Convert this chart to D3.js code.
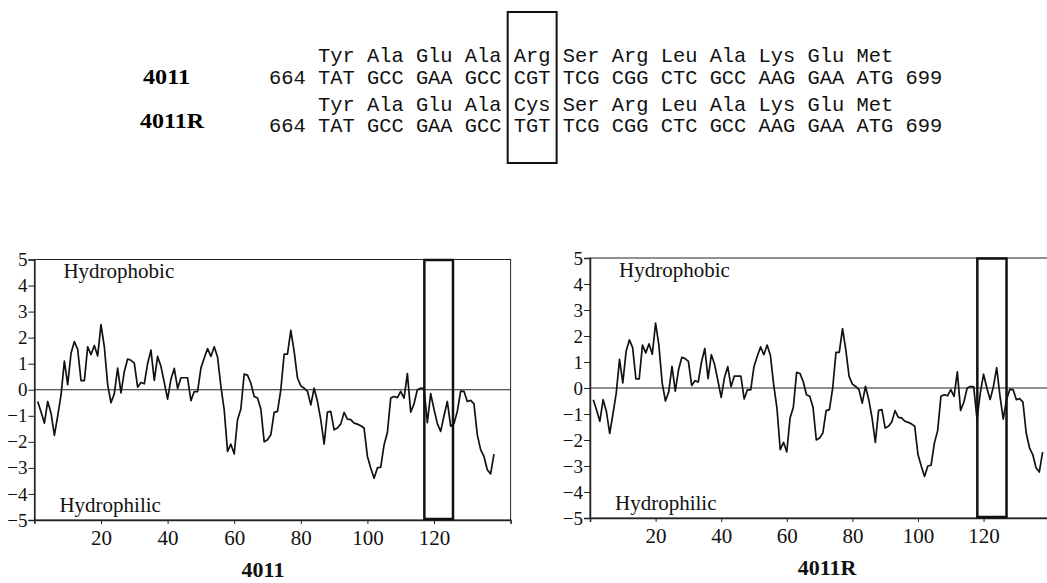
<!DOCTYPE html>
<html>
<head>
<meta charset="utf-8">
<script src="https://cdn.jsdelivr.net/npm/d3@7"></script>
<style>
  body { margin: 0; background: #fff; }
  svg { display: block; }
</style>
</head>
<body>
<div id="chart"></div>
<script>
// ---- data ----
var aaWT = ["Tyr", "Ala", "Glu", "Ala", "Arg", "Ser", "Arg", "Leu", "Ala", "Lys", "Glu", "Met"];
var aaMut = ["Tyr", "Ala", "Glu", "Ala", "Cys", "Ser", "Arg", "Leu", "Ala", "Lys", "Glu", "Met"];
var codonWT = ["TAT", "GCC", "GAA", "GCC", "CGT", "TCG", "CGG", "CTC", "GCC", "AAG", "GAA", "ATG"];
var codonMut = ["TAT", "GCC", "GAA", "GCC", "TGT", "TCG", "CGG", "CTC", "GCC", "AAG", "GAA", "ATG"];
var seqStart = "664";
var seqEnd = "699";
var boxedCodon = 4;

// hydropathy, residue 1..138
var hydroWT = [
  -0.45, -0.85, -1.28, -0.45, -0.9, -1.75, -1.0, -0.2, 1.1, 0.2,
  1.4, 1.85, 1.55, 0.35, 0.35, 1.65, 1.35, 1.7, 1.3, 2.5,
  1.65, 0.2, -0.5, -0.15, 0.83, -0.12, 0.7, 1.18, 1.13, 1.02,
  0.1, 0.28, 0.23, 1.0, 1.52, 0.36, 1.28, 0.9, 0.28, -0.36,
  0.4, 0.82, 0.05, 0.46, 0.46, 0.46, -0.42, -0.07, -0.07, 0.83,
  1.22, 1.58, 1.28, 1.65, 1.26, 0.13, -0.77, -2.37, -2.09, -2.46,
  -1.15, -0.74, 0.6, 0.56, 0.25, -0.26, -0.32, -0.74, -2.0, -1.92,
  -1.73, -0.87, -0.83, 0.0, 1.37, 1.37, 2.28, 1.47, 0.45, 0.15,
  0.06, -0.06, -0.58, 0.06, -0.45, -1.15, -2.09, -0.86, -0.83, -1.54,
  -1.47, -1.31, -0.87, -1.13, -1.15, -1.28, -1.32, -1.38, -1.47, -2.56,
  -3.0, -3.4, -3.0, -2.97, -2.12, -1.64, -0.32, -0.26, -0.3, -0.06,
  -0.32, 0.62, -0.86, -0.54, 0.0, 0.06, 0.04, -1.26, -0.15, -0.75,
  -1.3, -1.6, -1.0, -0.45, -1.4, -1.3, -0.83, -0.05, -0.06, -0.45,
  -0.41, -0.54, -1.73, -2.3, -2.56, -3.07, -3.23, -2.47
];
var hydroMut = [
  -0.45, -0.85, -1.28, -0.45, -0.9, -1.75, -1.0, -0.2, 1.1, 0.2,
  1.4, 1.85, 1.55, 0.35, 0.35, 1.65, 1.35, 1.7, 1.3, 2.5,
  1.65, 0.2, -0.5, -0.15, 0.83, -0.12, 0.7, 1.18, 1.13, 1.02,
  0.1, 0.28, 0.23, 1.0, 1.52, 0.36, 1.28, 0.9, 0.28, -0.36,
  0.4, 0.82, 0.05, 0.46, 0.46, 0.46, -0.42, -0.07, -0.07, 0.83,
  1.22, 1.58, 1.28, 1.65, 1.26, 0.13, -0.77, -2.37, -2.09, -2.46,
  -1.15, -0.74, 0.6, 0.56, 0.25, -0.26, -0.32, -0.74, -2.0, -1.92,
  -1.73, -0.87, -0.83, 0.0, 1.37, 1.37, 2.28, 1.47, 0.45, 0.15,
  0.06, -0.06, -0.58, 0.06, -0.45, -1.15, -2.09, -0.86, -0.83, -1.54,
  -1.47, -1.31, -0.87, -1.13, -1.15, -1.28, -1.32, -1.38, -1.47, -2.56,
  -3.0, -3.4, -3.0, -2.97, -2.12, -1.64, -0.32, -0.26, -0.3, -0.06,
  -0.32, 0.62, -0.86, -0.54, 0.0, 0.06, 0.04, -1.2, -0.2, 0.53,
  0.0, -0.44, 0.05, 0.78, -0.3, -1.2, -0.45, -0.05, -0.06, -0.45,
  -0.41, -0.54, -1.73, -2.3, -2.56, -3.07, -3.23, -2.47
];
var xTicks = [20, 40, 60, 80, 100, 120];
var yTicks = [-5, -4, -3, -2, -1, 0, 1, 2, 3, 4, 5];
var boxWT = [117.1, 125.7];
var boxMut = [118.1, 127.0];

// ---- svg ----
var svgWidth = 1047;
var svgHeight = 583;

var svg = d3.select("#chart")
  .append("svg")
  .attr("width", svgWidth)
  .attr("height", svgHeight);

svg.append("rect")
  .attr("width", svgWidth)
  .attr("height", svgHeight)
  .attr("fill", "#fff");

var serif = "'Liberation Serif', 'Times New Roman', serif";
var mono = "'Liberation Mono', 'Courier New', monospace";

// ---- sequence block at top ----
var seqX0 = 269;
var charW = 12.24;
var charX = function(i) { return seqX0 + i * charW; };

function seqRow(tokens, startIdx, y) {
  svg.append("g").selectAll("text")
    .data(tokens)
    .enter()
    .append("text")
    .attr("x", (d, i) => charX(startIdx + i * 4))
    .attr("y", y)
    .style("font-family", mono)
    .style("font-size", "20.4px")
    .style("fill", "#111")
    .text(d => d);
}

seqRow(aaWT, 4, 62);
seqRow([seqStart].concat(codonWT).concat([seqEnd]), 0, 84);
seqRow(aaMut, 4, 111);
seqRow([seqStart].concat(codonMut).concat([seqEnd]), 0, 132);

svg.append("text")
  .attr("x", 143).attr("y", 84)
  .attr("textLength", 47).attr("lengthAdjust", "spacingAndGlyphs")
  .style("font-family", serif).style("font-weight", "bold").style("font-size", "21px")
  .text("4011");

svg.append("text")
  .attr("x", 140).attr("y", 128)
  .attr("textLength", 64).attr("lengthAdjust", "spacingAndGlyphs")
  .style("font-family", serif).style("font-weight", "bold").style("font-size", "21px")
  .text("4011R");

// box around the changed codon
var boxL = charX(4 + boxedCodon * 4 - 0.5);
var boxR = charX(4 + boxedCodon * 4 + 3.5);
svg.append("rect")
  .attr("x", boxL).attr("y", 12)
  .attr("width", boxR - boxL).attr("height", 151)
  .attr("fill", "none")
  .attr("stroke", "#111")
  .attr("stroke-width", 2);

// ---- hydropathy plots ----
function drawPlot(opts) {
  var x = d3.scaleLinear().domain([0, 143]).range([opts.left, opts.right]);
  var y = d3.scaleLinear().domain([-5, 5]).range([opts.bottom, opts.top]);
  var g = svg.append("g");

  // frame
  g.append("rect")
    .attr("x", opts.left).attr("y", opts.top)
    .attr("width", opts.right - opts.left).attr("height", opts.bottom - opts.top)
    .attr("fill", "none").attr("stroke", "#222").attr("stroke-width", 1);

  // axes
  var yAxis = g.append("g")
    .attr("transform", `translate(${opts.left},0)`)
    .call(d3.axisLeft(y).tickValues(yTicks).tickSize(6).tickPadding(2).tickFormat(d3.format("d")));
  var xAxis = g.append("g")
    .attr("transform", `translate(0,${opts.bottom})`)
    .call(d3.axisBottom(x).tickValues(xTicks).tickSize(4).tickPadding(6));

  [yAxis, xAxis].forEach(function(a) {
    a.select(".domain").attr("stroke", "#222").attr("stroke-width", 1.5);
    a.selectAll(".tick line").attr("stroke", "#222");
    a.selectAll("text")
      .style("font-family", serif)
      .style("fill", "#111");
  });
  yAxis.selectAll("text").style("font-size", "19px").attr("x", -7);
  xAxis.selectAll("text").style("font-size", "21px");

  // zero line
  g.append("line")
    .attr("x1", opts.left).attr("x2", opts.right)
    .attr("y1", y(0)).attr("y2", y(0))
    .attr("stroke", "#222").attr("stroke-width", 1.2);

  // hydropathy line
  var line = d3.line()
    .x((d, i) => x(i + 1))
    .y(d => y(d));
  g.append("path")
    .datum(opts.values)
    .attr("d", line)
    .attr("fill", "none")
    .attr("stroke", "#111")
    .attr("stroke-width", 1.7)
    .attr("stroke-linejoin", "round");

  // highlight box
  g.append("rect")
    .attr("x", x(opts.box[0])).attr("y", y(5) + 0.5)
    .attr("width", x(opts.box[1]) - x(opts.box[0]))
    .attr("height", y(-5) - y(5) - 1.5)
    .attr("fill", "none")
    .attr("stroke", "#111")
    .attr("stroke-width", 2.5);

  // labels
  g.append("text")
    .attr("x", opts.left + 29).attr("y", opts.top + 18.5)
    .style("font-family", serif).style("font-size", "21px").style("fill", "#111")
    .text("Hydrophobic");
  g.append("text")
    .attr("x", opts.left + 25).attr("y", opts.bottom - 8.5)
    .style("font-family", serif).style("font-size", "21px").style("fill", "#111")
    .text("Hydrophilic");

  g.append("text")
    .attr("x", opts.titleX).attr("y", opts.titleY)
    .attr("text-anchor", "middle")
    .style("font-family", serif).style("font-weight", "bold").style("font-size", "22px")
    .style("fill", "#111")
    .text(opts.title);
}

drawPlot({
  values: hydroWT, box: boxWT, title: "4011",
  left: 34.4, right: 510.6, top: 259.5, bottom: 520,
  titleX: 263, titleY: 577
});

drawPlot({
  values: hydroMut, box: boxMut, title: "4011R",
  left: 590, right: 1059, top: 258, bottom: 518,
  titleX: 827, titleY: 575
});
</script>
</body>
</html>
